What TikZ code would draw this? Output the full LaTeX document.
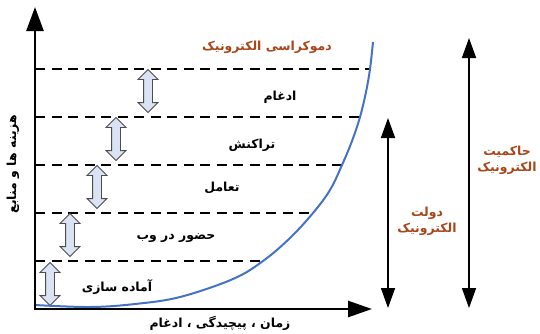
\documentclass[tikz,border=0pt]{standalone}
\usepackage{fontspec}
\newfontfamily\arabicfont[Script=Arabic]{DejaVu Sans}
\TeXXeTstate=1
\usetikzlibrary{arrows.meta,shapes.arrows}
\definecolor{brn}{RGB}{168,70,26}
\definecolor{crv}{RGB}{68,114,196}
\definecolor{afill}{RGB}{218,227,243}
\newcommand\rl[1]{\beginR#1\endR}
\tikzset{
  lbl/.style={font=\arabicfont\bfseries\fontsize{12.5}{16}\selectfont,align=center,inner sep=1bp},
  blk/.style={double arrow,draw=black!70,line width=.8pt,fill=afill,rotate=90,minimum height=43bp,minimum width=19bp,inner sep=4bp,double arrow head extend=5.5bp},
  dsh/.style={line width=1.3pt,dash pattern=on 10bp off 6.5bp},
  spanarr/.style={line width=1.6pt,{Triangle[length=20bp,width=14bp]}-{Triangle[length=20bp,width=14bp]}}
}
\begin{document}
\begin{tikzpicture}[x=1bp,y=-1bp]
\useasboundingbox(0,0)rectangle(540,333);
\coordinate(o)at(35,309);
% levels
\foreach \y/\x in {69/370,117/360,165/342,213/313,261/263}{\draw[dsh](35,\y)--(\x,\y);}
\foreach \x/\y [count=\i] in {148/91,116/139,97/187,70/235,50/284}{\node[blk](b\i)at(\x,\y){};}
% growth curve
\draw[crv,line width=2pt]plot[smooth,tension=.6]coordinates{(35,305)(90,307)(135,304)(180,297)(233,279)(263,261)(290,238)(313,213)(330,190)(342,165)(352,141)(360,117)(366,92)(370,69)(373,42)};
% axes
\draw[line width=2.5pt,-{Triangle[length=24bp,width=17bp]}](o)--(35,7);
\draw[line width=2.5pt,-{Triangle[length=24bp,width=16bp]}](34,309)--(372,309);
\node[lbl,rotate=90](ylab)at(13,164){\rl{هزینه ها و منابع}};
\node[lbl](xlab)at(220,323){\rl{زمان ، پیچیدگی ، ادغام}};
% stages
\node[lbl,text=brn](demo)at(267,47){\rl{دموکراسی الکترونیک}};
\node[lbl](s5)at(280,97){\rl{ادغام}};
\node[lbl](s4)at(252,145){\rl{تراکنش}};
\node[lbl](s3)at(222,188){\rl{تعامل}};
\node[lbl](s2)at(176,238){\rl{حضور در وب}};
\node[lbl](s1)at(117,287){\rl{آماده سازی}};
% spans
\coordinate(g1)at(388,118);\coordinate(g2)at(388,308);
\coordinate(h1)at(469,38);\coordinate(h2)at(469,308);
\draw[spanarr](g1)--(g2);
\draw[spanarr](h1)--(h2);
\node[lbl,text=brn](gov)at(427,221){\rl{دولت}\\\rl{الکترونیک}};
\node[lbl,text=brn](gnc)at(507,160){\rl{حاکمیت}\\\rl{الکترونیک}};
\end{tikzpicture}
\end{document}
